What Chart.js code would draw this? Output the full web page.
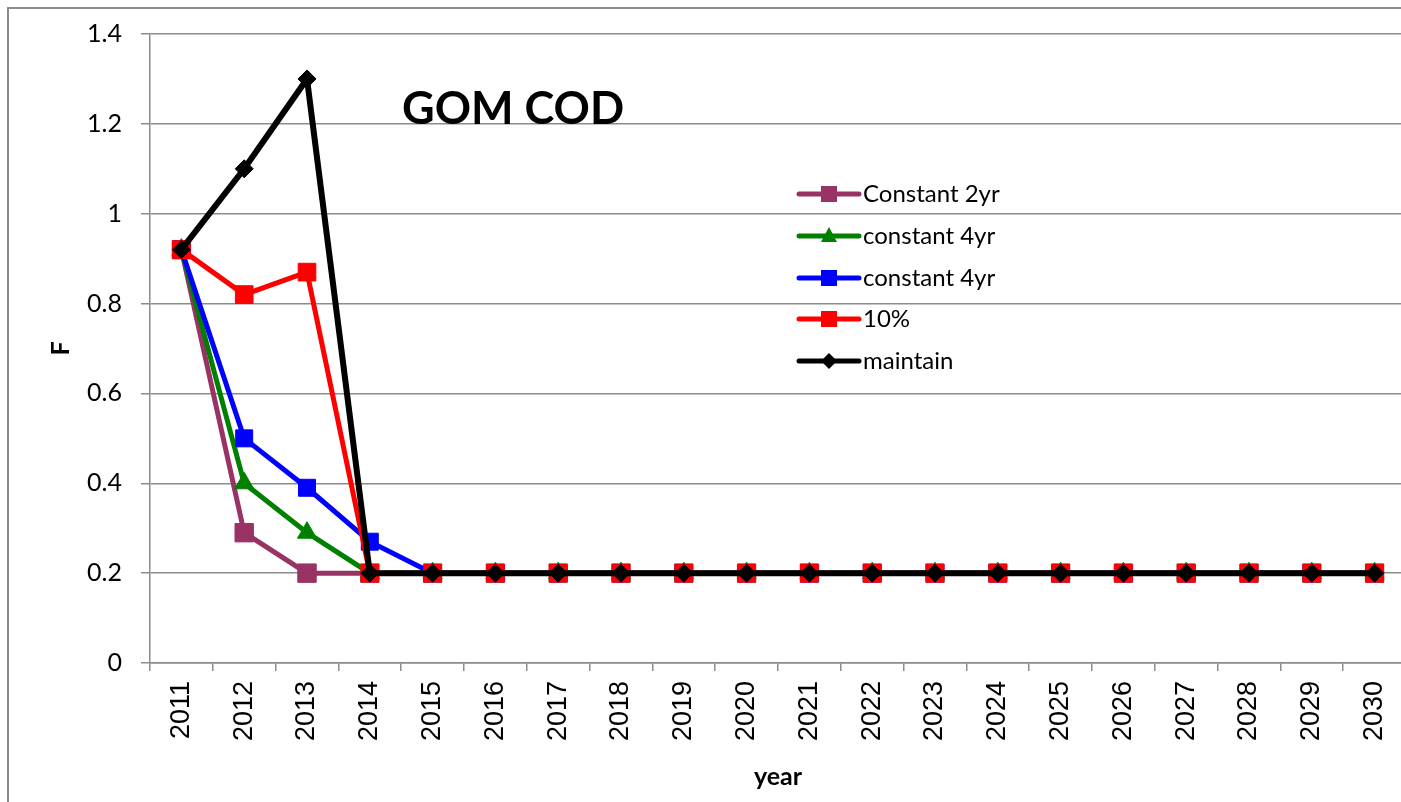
<!DOCTYPE html>
<html>
<head>
<meta charset="utf-8">
<script src="https://cdn.jsdelivr.net/npm/chart.js@4"></script>
<style>
    html, body { margin: 0; padding: 0; background: #fff; overflow: hidden; }
    #wrap { position: relative; width: 1401px; height: 802px; overflow: hidden; }
    #frame { position: absolute; left: 7px; top: 7px; width: 1420px; height: 820px; border: 2px solid #8c8c8c; }
    canvas { position: absolute; left: 0; top: 0; }
</style>
</head>
<body>
<div id="wrap">
    <div id="frame"></div>
    <canvas id="chart" width="1420" height="802"></canvas>
</div>
<script>
const years = ["2011", "2012", "2013", "2014", "2015", "2016", "2017", "2018", "2019", "2020",
               "2021", "2022", "2023", "2024", "2025", "2026", "2027", "2028", "2029", "2030"];

const constant2yr = [0.92, 0.29, 0.20, 0.20, 0.20, 0.20, 0.20, 0.20, 0.20, 0.20,
                     0.20, 0.20, 0.20, 0.20, 0.20, 0.20, 0.20, 0.20, 0.20, 0.20];
const constant4yrGreen = [0.92, 0.40, 0.29, 0.20, 0.20, 0.20, 0.20, 0.20, 0.20, 0.20,
                          0.20, 0.20, 0.20, 0.20, 0.20, 0.20, 0.20, 0.20, 0.20, 0.20];
const constant4yrBlue = [0.92, 0.50, 0.39, 0.27, 0.20, 0.20, 0.20, 0.20, 0.20, 0.20,
                         0.20, 0.20, 0.20, 0.20, 0.20, 0.20, 0.20, 0.20, 0.20, 0.20];
const tenPercent = [0.92, 0.82, 0.87, 0.20, 0.20, 0.20, 0.20, 0.20, 0.20, 0.20,
                    0.20, 0.20, 0.20, 0.20, 0.20, 0.20, 0.20, 0.20, 0.20, 0.20];
const maintain = [0.92, 1.10, 1.30, 0.20, 0.20, 0.20, 0.20, 0.20, 0.20, 0.20,
                  0.20, 0.20, 0.20, 0.20, 0.20, 0.20, 0.20, 0.20, 0.20, 0.20];

const yTickLabels = ["0", "0.2", "0.4", "0.6", "0.8", "1", "1.2", "1.4"];

function serie(label, data, color, style, radius, width, order) {
    return {
        label: label,
        data: data,
        borderColor: color,
        backgroundColor: color,
        borderWidth: width,
        pointStyle: style,
        pointRadius: radius,
        pointBorderWidth: 1,
        pointBackgroundColor: color,
        pointBorderColor: color,
        tension: 0,
        order: order
    };
}

const datasets = [
    serie("Constant 2yr", constant2yr, "#993366", "rect", 13, 5, 5),
    serie("constant 4yr", constant4yrGreen, "#008000", "triangle", 11, 5, 4),
    serie("constant 4yr", constant4yrBlue, "#0000ff", "rect", 12, 5, 3),
    serie("10%", tenPercent, "#ff0000", "rect", 12.5, 5, 2),
    serie("maintain", maintain, "#000000", "rectRot", 9, 6, 1)
];

// titre "GOM COD" dans la zone du graphique
const tituloPlugin = {
    id: "titulo",
    afterDraw(chart) {
        const ctx = chart.ctx;
        ctx.save();
        ctx.fillStyle = "#000";
        ctx.font = "bold 45px Lato";
        ctx.textBaseline = "alphabetic";
        ctx.fillText("GOM COD", 402, 124);
        ctx.restore();
    }
};

// légende dessinée à la main, à l'intérieur du graphique
const legendaPlugin = {
    id: "legenda",
    afterDraw(chart) {
        const ctx = chart.ctx;
        const x0 = 799, x1 = 859, xm = 829, xt = 863;
        const ys = [194, 236, 278, 319, 361];
        ctx.save();
        datasets.forEach((ds, i) => {
            const y = ys[i];
            ctx.strokeStyle = ds.borderColor;
            ctx.lineWidth = 5;
            ctx.lineCap = "round";
            ctx.beginPath();
            ctx.moveTo(x0, y);
            ctx.lineTo(x1, y);
            ctx.stroke();
            ctx.fillStyle = ds.borderColor;
            ctx.beginPath();
            if (ds.pointStyle === "rect") {
                ctx.rect(xm - 8, y - 8, 16, 16);
            } else if (ds.pointStyle === "triangle") {
                ctx.moveTo(xm, y - 9);
                ctx.lineTo(xm + 8, y + 6);
                ctx.lineTo(xm - 8, y + 6);
                ctx.closePath();
            } else {
                ctx.moveTo(xm, y - 8);
                ctx.lineTo(xm + 8, y);
                ctx.lineTo(xm, y + 8);
                ctx.lineTo(xm - 8, y);
                ctx.closePath();
            }
            ctx.fill();
            ctx.fillStyle = "#000";
            ctx.font = "24px Lato";
            ctx.textBaseline = "middle";
            ctx.fillText(ds.label, xt, y);
        });
        ctx.restore();
    }
};

const ctx = document.getElementById("chart").getContext("2d");
new Chart(ctx, {
    type: "line",
    data: { labels: years, datasets: datasets },
    options: {
        responsive: false,
        animation: false,
        layout: { padding: { top: 33, right: 10, left: 0, bottom: 0 } },
        plugins: {
            legend: { display: false },
            tooltip: { enabled: false }
        },
        scales: {
            x: {
                offset: true,
                grid: { offset: true, drawOnChartArea: false, tickLength: 8, color: "#8c8c8c", lineWidth: 1.5 },
                border: { color: "#8c8c8c", width: 1.5 },
                ticks: {
                    minRotation: 90,
                    maxRotation: 90,
                    padding: 10,
                    color: "#000",
                    font: { family: "Liberation Sans", size: 27 }
                },
                title: {
                    display: true,
                    text: "year",
                    color: "#000",
                    font: { family: "Lato", weight: "bold", size: 25 },
                    padding: { top: 0, bottom: 10 }
                },
                afterFit(scale) { scale.height = 139; }
            },
            y: {
                min: 0,
                max: 1.4,
                grid: { color: "#8c8c8c", lineWidth: 1.5, tickLength: 9 },
                border: { color: "#8c8c8c", width: 1.5 },
                ticks: {
                    stepSize: 0.2,
                    padding: 19,
                    color: "#000",
                    font: { family: "Lato", size: 25 },
                    callback: (v, i) => yTickLabels[i]
                },
                title: {
                    display: true,
                    text: "F",
                    color: "#000",
                    font: { family: "Lato", weight: "bold", size: 25 },
                    padding: 46
                },
                afterFit(scale) { scale.width = 150; }
            }
        }
    },
    plugins: [tituloPlugin, legendaPlugin]
});
</script>
</body>
</html>
